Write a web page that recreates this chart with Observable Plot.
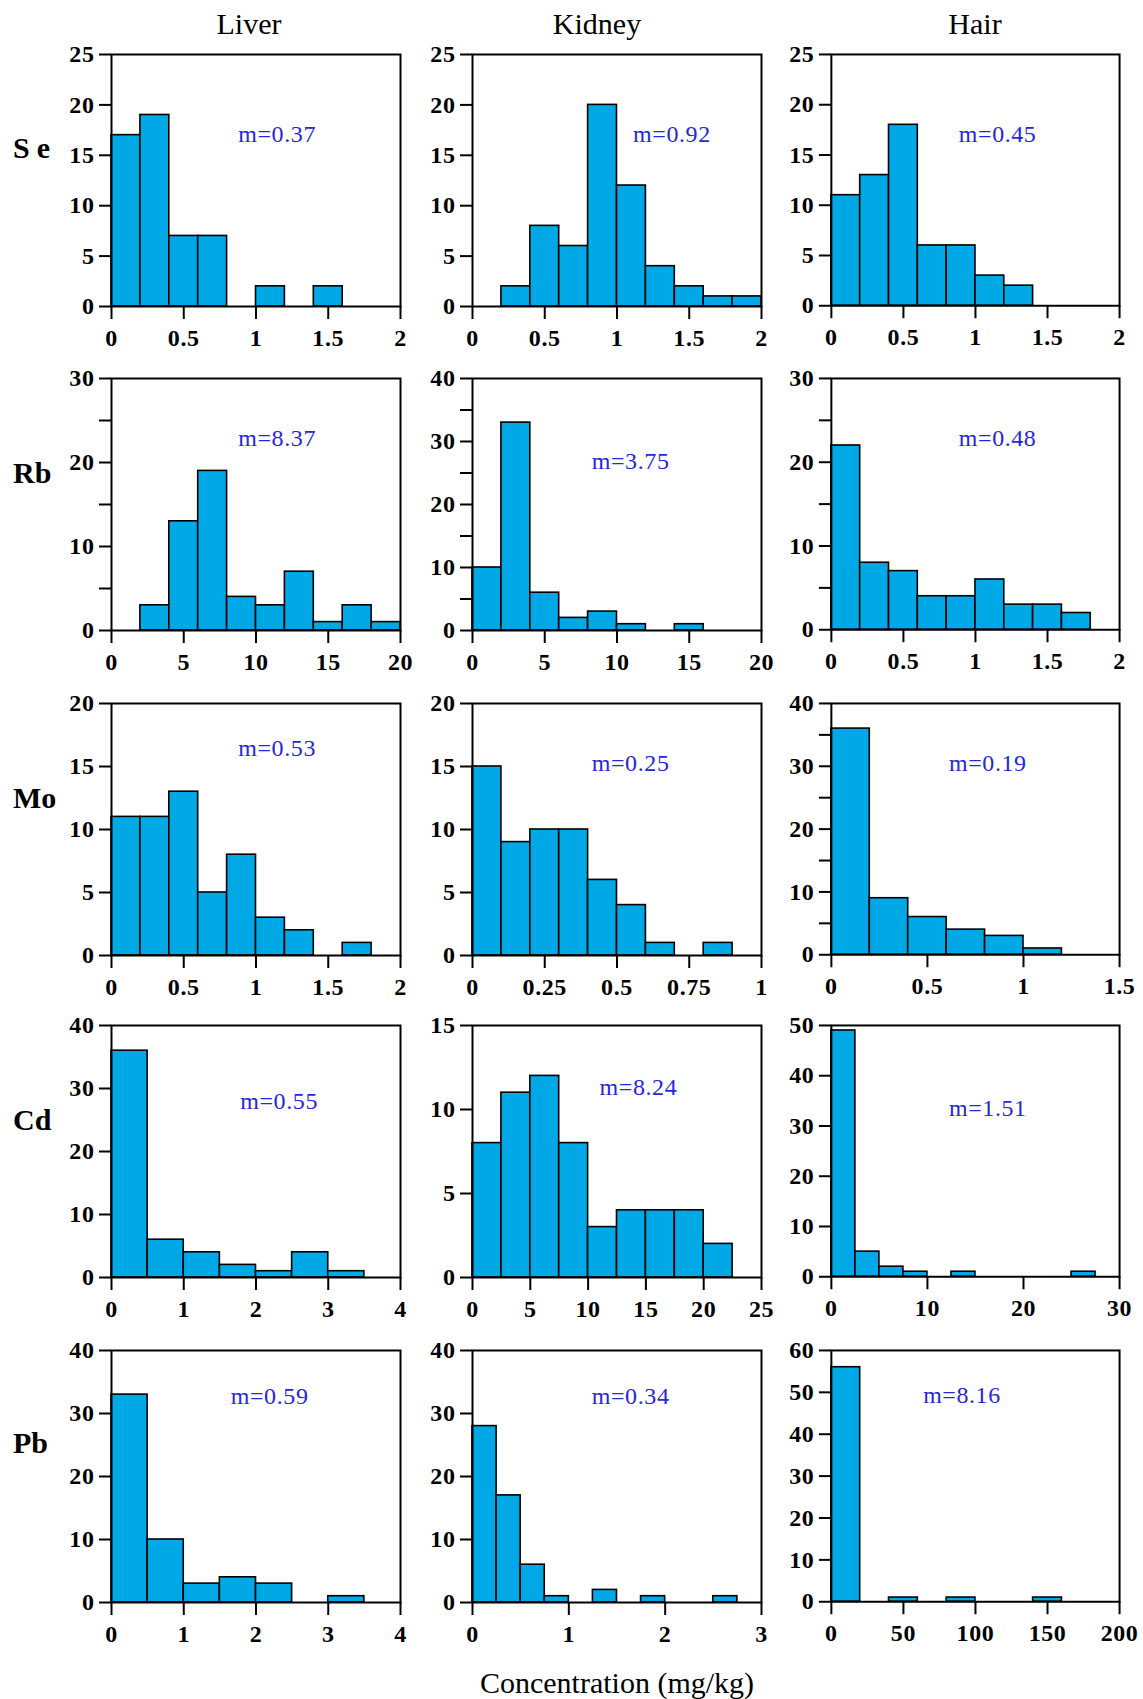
<!DOCTYPE html>
<html><head><meta charset="utf-8">
<script src="https://cdn.jsdelivr.net/npm/d3@7"></script>
<script src="https://cdn.jsdelivr.net/npm/@observablehq/plot@0.6"></script>
<style>
body{margin:0;background:#fff;}
#fig{position:relative;width:1143px;height:1699px;font-family:'Liberation Serif',serif;color:#000;}
.lbl{position:absolute;white-space:nowrap;transform:translate(-50%,-50%);line-height:1;}
.row{position:absolute;white-space:nowrap;transform:translate(0,-50%);font-weight:bold;font-size:30px;line-height:1;}
.panel{position:absolute;}
#fig svg text{letter-spacing:0.6px;}
</style></head><body><div id="fig"></div>
<script>
const elements = ["Se","Rb","Mo","Cd","Pb"];
const tissues = ["Liver","Kidney","Hair"];

// counts per bin (bins start at 0)
const seLiver  = [17,19,7,7,0,2,0,2];
const seKidney = [0,2,8,6,20,12,4,2,1,1];
const seHair   = [11,13,18,6,6,3,2];
const rbLiver  = [0,3,13,19,4,3,7,1,3,1];
const rbKidney = [10,33,6,2,3,1,0,1];
const rbHair   = [22,8,7,4,4,6,3,3,2];
const moLiver  = [11,11,13,5,8,3,2,0,1];
const moKidney = [15,9,10,10,6,4,1,0,1];
const moHair   = [36,9,6,4,3,1];
const cdLiver  = [36,6,4,2,1,4,1];
const cdKidney = [8,11,12,8,3,4,4,4,2];
const cdHair   = [49,5,2,1,0,1,0,0,0,0,1];
const pbLiver  = [33,10,3,4,3,0,1];
const pbKidney = [28,17,6,1,0,2,0,1,0,0,1];
const pbHair   = [56,0,1,0,1,0,0,1];

const binWidths = [[0.2,0.2,0.2],[2,2,0.2],[0.2,0.1,0.2],[0.5,2.5,2.5],[0.5,0.25,20]];
const means = [["0.37","0.92","0.45"],["8.37","3.75","0.48"],["0.53","0.25","0.19"],["0.55","8.24","1.51"],["0.59","0.34","8.16"]];
const xMax  = [[2,2,2],[20,20,2],[2,1,1.5],[4,25,30],[4,3,200]];
const xStep = [[0.5,0.5,0.5],[5,5,0.5],[0.5,0.25,0.5],[1,5,10],[1,1,50]];
const yMax  = [[25,25,25],[30,40,30],[20,20,40],[40,15,50],[40,40,60]];
const yStep = [[5,5,5],[10,10,10],[5,5,10],[10,5,10],[10,10,10]];
const yMinor = [[false,false,false],[true,true,true],[false,false,true],[false,false,false],[false,false,false]];

const countRows = [[seLiver,seKidney,seHair],[rbLiver,rbKidney,rbHair],[moLiver,moKidney,moHair],[cdLiver,cdKidney,cdHair],[pbLiver,pbKidney,pbHair]];

// layout (not data)
const frameLefts = [110.5,472,831];
const frameTops = [54,378,703,1025,1350];
const FW = 289, FH = 252, mL = 50, mR = 24, mT = 14, mB = 46;
const mPos = [[[0.573,0.318],[0.69,0.318],[0.577,0.318]],
              [[0.573,0.237],[0.547,0.328],[0.577,0.237]],
              [[0.573,0.177],[0.547,0.237],[0.543,0.237]],
              [[0.58,0.30],[0.574,0.244],[0.543,0.329]],
              [[0.547,0.18],[0.547,0.18],[0.453,0.18]]];
const titleX = [249,597,975];
const rowY = [148,473,798,1120,1443];

const fig = document.getElementById("fig");
const fmt = d3.format("~g");

elements.forEach((el, r) => {
  tissues.forEach((t, c) => {
    const cnt = countRows[r][c], w = binWidths[r][c];
    const bins = cnt.map((n, i) => ({x1: i * w, x2: (i + 1) * w, n})).filter(d => d.n > 0);
    const xt = d3.range(0, xMax[r][c] + xStep[r][c] / 2, xStep[r][c]);
    const yt = d3.range(0, yMax[r][c] + yStep[r][c] / 2, yStep[r][c]);
    const ym = d3.range(yStep[r][c] / 2, yMax[r][c], yStep[r][c]);
    const marks = [
      Plot.rectY(bins, {x1: "x1", x2: "x2", y: "n", fill: "#00a8e6", stroke: "#000", strokeWidth: 1.6, inset: 0}),
      Plot.frame({stroke: "#000", strokeWidth: 2}),
      Plot.axisX(xt, {tickSize: 13, tickPadding: 9, strokeWidth: 2, tickFormat: fmt, label: null}),
      Plot.axisY(yt, {tickSize: 12, tickPadding: 5, strokeWidth: 2, tickFormat: fmt, label: null})
    ];
    if (yMinor[r][c]) marks.push(Plot.axisY(ym, {tickSize: 12, strokeWidth: 2, tickFormat: () => "", label: null}));
    marks.push(Plot.text([`m=${means[r][c]}`], {
      frameAnchor: "top-left", dx: mPos[r][c][0] * FW, dy: mPos[r][c][1] * FH,
      text: d => d, fill: "#2626dc", fontSize: 24, fontWeight: "normal",
      textAnchor: "middle", lineAnchor: "middle"
    }));
    const p = Plot.plot({
      width: FW + mL + mR, height: FH + mT + mB,
      marginLeft: mL, marginRight: mR, marginTop: mT, marginBottom: mB,
      style: {fontFamily: "'Liberation Serif', serif", fontSize: "24px", fontWeight: "bold", background: "transparent", overflow: "visible", color: "#000"},
      x: {domain: [0, xMax[r][c]]},
      y: {domain: [0, yMax[r][c]]},
      marks
    });
    const d = document.createElement("div");
    d.className = "panel";
    d.style.left = (frameLefts[c] - mL) + "px";
    d.style.top = (frameTops[r] - mT) + "px";
    d.appendChild(p);
    fig.appendChild(d);
  });
  const rl = document.createElement("div");
  rl.className = "row";
  rl.textContent = el;
  rl.style.left = "13px";
  rl.style.top = rowY[r] + "px";
  if (el === "Se") rl.style.letterSpacing = "7px";
  fig.appendChild(rl);
});

tissues.forEach((t, c) => {
  const d = document.createElement("div");
  d.className = "lbl";
  d.textContent = t;
  d.style.left = titleX[c] + "px";
  d.style.top = "24px";
  d.style.fontSize = "30px";
  fig.appendChild(d);
});

const xl = document.createElement("div");
xl.className = "lbl";
xl.textContent = "Concentration (mg/kg)";
xl.style.left = "617px";
xl.style.top = "1683px";
xl.style.fontSize = "30px";
fig.appendChild(xl);
</script>
</body></html>
